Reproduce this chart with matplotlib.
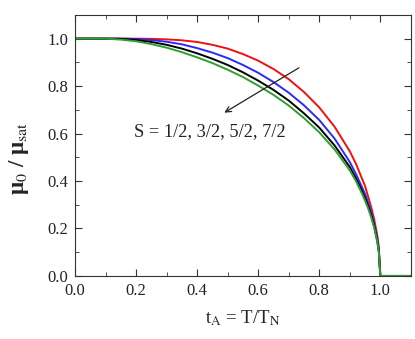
import matplotlib
matplotlib.use("Agg")
import matplotlib.pyplot as plt
from matplotlib.ticker import MultipleLocator

plt.rcParams['font.family'] = ['Liberation Serif', 'DejaVu Serif']
plt.rcParams['mathtext.fontset'] = 'stix'

# reduced temperature t_A = T/T_N
t_a = [0.0, 0.1, 0.15, 0.2, 0.25, 0.3, 0.35, 0.4, 0.45, 0.5, 0.55, 0.6, 0.65,
       0.7, 0.75, 0.8, 0.85, 0.9, 0.92, 0.94, 0.95, 0.96, 0.97, 0.98, 0.99,
       0.995, 1.0, 1.1]

# mu_0 / mu_sat
mu_s12 = [1.0, 1.0, 1.0, 1.0, 0.999, 0.997, 0.993, 0.986, 0.974, 0.958, 0.935,
          0.907, 0.872, 0.829, 0.775, 0.710, 0.629, 0.525, 0.473, 0.410, 0.379,
          0.334, 0.290, 0.238, 0.170, 0.122, 0.0, 0.0]
mu_s32 = [1.0, 1.0, 1.0, 0.998, 0.994, 0.987, 0.976, 0.960, 0.941, 0.918, 0.889,
          0.856, 0.817, 0.772, 0.719, 0.657, 0.579, 0.480, 0.430, 0.374, 0.345,
          0.308, 0.268, 0.219, 0.156, 0.111, 0.0, 0.0]
mu_s52 = [1.0, 1.0, 0.999, 0.994, 0.986, 0.974, 0.958, 0.938, 0.915, 0.889, 0.858,
          0.823, 0.784, 0.739, 0.685, 0.625, 0.550, 0.459, 0.412, 0.358, 0.327,
          0.294, 0.255, 0.209, 0.148, 0.105, 0.0, 0.0]
mu_s72 = [1.0, 1.0, 0.996, 0.989, 0.977, 0.962, 0.943, 0.921, 0.897, 0.869, 0.838,
          0.802, 0.763, 0.718, 0.665, 0.605, 0.533, 0.445, 0.400, 0.347, 0.317,
          0.285, 0.247, 0.203, 0.144, 0.102, 0.0, 0.0]

series = [(mu_s12, '#f01010'), (mu_s32, '#2a2aff'), (mu_s52, 'black'), (mu_s72, '#2ca02c')]

fig = plt.figure(figsize=(4.15, 3.39), dpi=100)
ax = fig.add_axes([0.181, 0.186, 0.809, 0.770])

for vals, col in series:
    ax.plot(t_a, vals, color=col, lw=1.4)

ax.set_xlim(0, 1.1)
ax.set_ylim(0, 1.1)
ax.xaxis.set_major_locator(MultipleLocator(0.2))
ax.xaxis.set_minor_locator(MultipleLocator(0.1))
ax.yaxis.set_major_locator(MultipleLocator(0.2))
ax.yaxis.set_minor_locator(MultipleLocator(0.1))
ax.xaxis.set_major_formatter(plt.FuncFormatter(lambda v, p: f"{v:.1f}"))
ax.yaxis.set_major_formatter(plt.FuncFormatter(lambda v, p: f"{v:.1f}"))
ax.tick_params(which='both', direction='in', top=True, right=True,
               labelsize=12, color='#333333', labelcolor='#222222')
ax.tick_params(which='major', length=5, pad=5)
ax.tick_params(which='minor', length=3)
for sp in ax.spines.values():
    sp.set_color('#333333')

ax.annotate('', xy=(0.481, 0.682), xytext=(0.741, 0.883),
            arrowprops=dict(arrowstyle='->', color='#222222', lw=0.9))
ax.text(0.194, 0.609, 'S = 1/2, 3/2, 5/2, 7/2', fontsize=13.2,
        va='center', ha='left', color='#222222')

ax.set_xlabel(r't$_\mathrm{A}$ = T/T$_\mathrm{N}$', fontsize=13.5, color='#222222')
ax.xaxis.set_label_coords(0.5, -0.125)
ax.set_ylabel('μ$_0$ / μ$_\\mathrm{sat}$', fontsize=16.5, fontweight='bold',
              color='#222222')
ax.yaxis.set_label_coords(-0.13, 0.45)

fig.savefig('out.png', dpi=100)
